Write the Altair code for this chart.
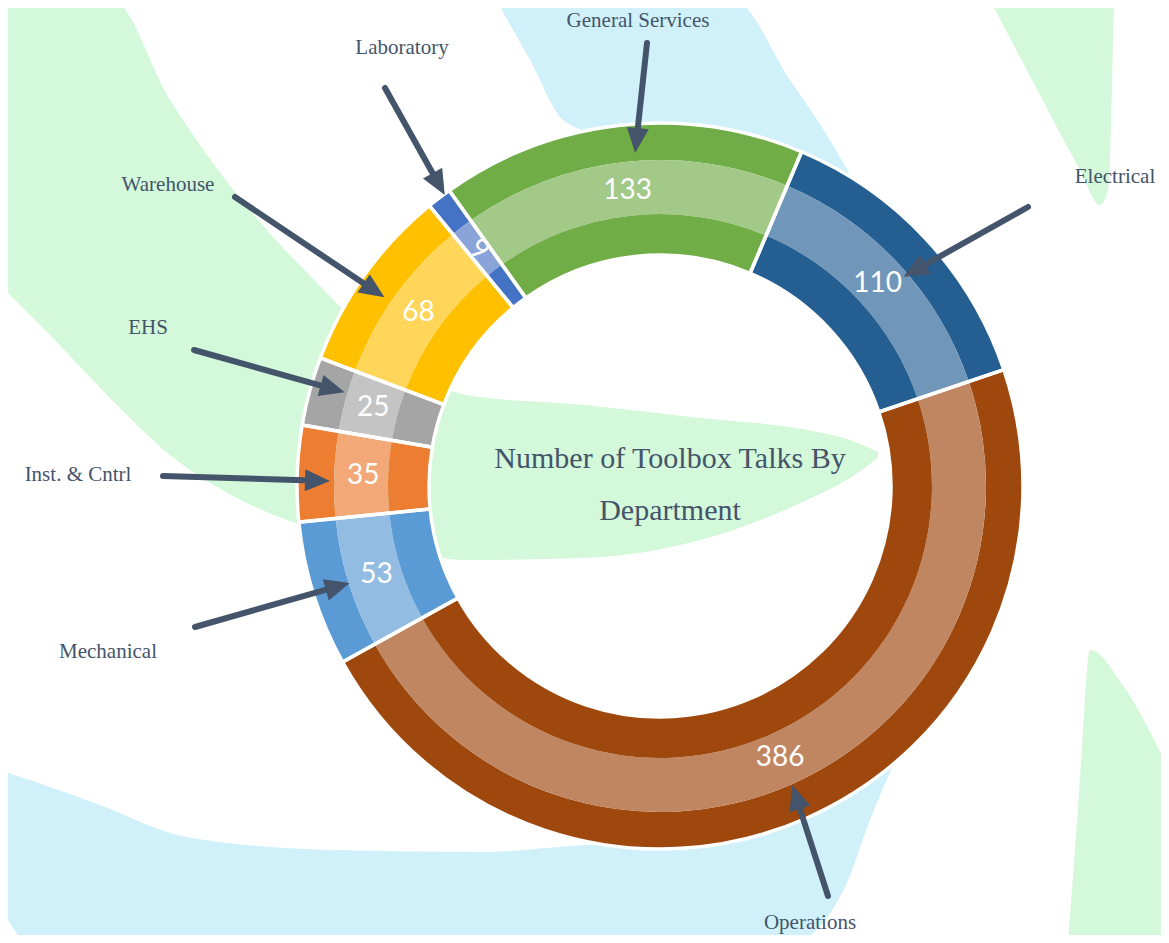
import math
import altair as alt
import pandas as pd

# ---------------- data ----------------
departments = ["General Services", "Electrical", "Operations", "Mechanical",
               "Inst. & Cntrl", "EHS", "Warehouse", "Laboratory"]
talks = [133, 110, 386, 53, 35, 25, 68, 9]
title_lines = ["Number of Toolbox Talks By", "Department"]

# ---------------- styles ----------------
DARK = {"General Services": "#70AD47", "Electrical": "#255E91", "Operations": "#9E480E",
        "Mechanical": "#5B9BD5", "Inst. & Cntrl": "#ED7D31", "EHS": "#A5A5A5",
        "Warehouse": "#FFC000", "Laboratory": "#4472C4"}
LIGHT = {"General Services": "#A2C987", "Electrical": "#7096BA", "Operations": "#C08661",
         "Mechanical": "#93BCE3", "Inst. & Cntrl": "#F3A878", "EHS": "#C4C4C4",
         "Warehouse": "#FFD55A", "Laboratory": "#8AA4DA"}
VALUE_ROT = {"Laboratory": 35}
INK = "#44546A"
BG_GREEN = "#D3F8DA"
BG_BLUE = "#D0F1FA"
SERIF = "Liberation Serif"

# ---------------- layout (page pixels) ----------------
PAGE_W, PAGE_H, MARGIN = 1169, 943, 8
W, H = PAGE_W - 2 * MARGIN, PAGE_H - 2 * MARGIN
CX, CY = 660, 486
R_OUT, R_A, R_B, R_IN = 363, 326, 272, 231
R_VALUE = 297
START_DEG = -35.5

LABEL_XY = {"General Services": (638, 21), "Electrical": (1115, 177), "Operations": (810, 923),
            "Mechanical": (108, 652), "Inst. & Cntrl": (78, 475), "EHS": (148, 328),
            "Warehouse": (168, 185), "Laboratory": (402, 48)}
ARROW_TAIL = {"General Services": (647, 43), "Electrical": (1028, 207), "Operations": (828, 896),
              "Mechanical": (195, 627), "Inst. & Cntrl": (163, 476), "EHS": (194, 350),
              "Warehouse": (235, 197), "Laboratory": (385, 88)}
# (angle offset from the slice middle in degrees, radius) of each arrow tip
TIP_POLAR = {"General Services": (2.0, 334), "Electrical": (2.2, 321), "Operations": (0.0, 327),
             "Mechanical": (0.0, 325), "Inst. & Cntrl": (-1.1, 330), "EHS": (1.4, 329),
             "Warehouse": (-1.2, 334), "Laboratory": (1.0, 362)}
TITLE_XY = [(670, 468), (670, 520)]
HEAD_LEN = 25

# background decoration (soft swooshes), page pixels
deco = [
    ("g1", BG_GREEN,
     [0, 50, 112, 170, 231, 317, 400, 466, 584, 700, 807, 850, 878],
     [0, 0, 0, 100, 187, 283, 360, 395, 405, 418, 430, 440, 452],
     [285, 335, 400, 455, 495, 530, 550, 560, 558, 540, 500, 478, 458]),
    ("b1", BG_BLUE,
     [496, 530, 563, 600, 680, 733, 790, 830, 850],
     [0, 0, 0, 0, 0, 0, 80, 140, 175],
     [0, 60, 120, 135, 150, 160, 170, 175, 175]),
    ("b2", BG_BLUE,
     [0, 30, 100, 186, 335, 484, 584, 700, 790, 845, 870, 893],
     [770, 780, 805, 837, 850, 852, 845, 840, 805, 785, 775, 765],
     [905, 943, 943, 943, 943, 943, 943, 943, 943, 887, 820, 765]),
    ("g2", BG_GREEN,
     [990, 1040, 1080, 1100, 1108, 1114],
     [0, 0, 0, 0, 0, 0],
     [0, 95, 170, 205, 190, 0]),
    ("g3", BG_GREEN,
     [1068, 1075, 1082, 1090, 1124, 1169],
     [943, 850, 750, 650, 687, 770],
     [943, 943, 943, 943, 943, 943]),
]

# ---------------- tables ----------------
total = sum(talks)
ring = pd.DataFrame({
    "dept": departments,
    "talks": talks,
    "order": list(range(len(departments))),
    "dark": [DARK[d] for d in departments],
    "light": [LIGHT[d] for d in departments],
    "rot": [VALUE_ROT.get(d, 0) for d in departments],
})

arrow_rows = []
value_rows = []
cum = 0
for d, v in zip(departments, talks):
    mid = START_DEG + (cum + v / 2) / total * 360
    cum += v
    am = math.radians(mid)
    value_rows.append({"dept": d, "talks": v, "rot": VALUE_ROT.get(d, 0),
                       "vx": CX + R_VALUE * math.sin(am), "vy": CY - R_VALUE * math.cos(am)})
    off, r = TIP_POLAR[d]
    a = math.radians(mid + off)
    px, py = CX + r * math.sin(a), CY - r * math.cos(a)
    tx, ty = ARROW_TAIL[d]
    dx, dy = px - tx, py - ty
    ln = math.hypot(dx, dy)
    ux, uy = dx / ln, dy / ln
    ang = math.degrees(math.atan2(dx, -dy)) % 360
    lx, ly = LABEL_XY[d]
    arrow_rows.append({"dept": d, "tx": tx, "ty": ty,
                       "ex": px - 0.72 * HEAD_LEN * ux, "ey": py - 0.72 * HEAD_LEN * uy,
                       "hx": px - 0.5 * HEAD_LEN * ux, "hy": py - 0.5 * HEAD_LEN * uy,
                       "ang": ang, "lx": lx, "ly": ly})
arrows = pd.DataFrame(arrow_rows)
value_df = pd.DataFrame(value_rows)

deco_rows = []
for name, fill, xsv, ytop, ybot in deco:
    for x, y1, y2 in zip(xsv, ytop, ybot):
        deco_rows.append({"shape": name, "fill": fill, "x": x, "y": y1, "y2": y2})
deco_df = pd.DataFrame(deco_rows)

titles = pd.DataFrame({"text": title_lines,
                       "x": [p[0] for p in TITLE_XY], "y": [p[1] for p in TITLE_XY]})

# ---------------- scales ----------------
xs = alt.Scale(domain=[MARGIN, PAGE_W - MARGIN], nice=False, zero=False)
ys = alt.Scale(domain=[MARGIN, PAGE_H - MARGIN], nice=False, zero=False, reverse=True)
s0 = math.radians(START_DEG)
theta = alt.Theta("talks:Q", stack=True, scale=alt.Scale(range=[s0, s0 + 2 * math.pi]))
order = alt.Order("order:Q")
cxv, cyv = alt.value(CX - MARGIN), alt.value(CY - MARGIN)

# ---------------- layers ----------------
bg = alt.Chart(deco_df).mark_area(interpolate="monotone", opacity=1).encode(
    x=alt.X("x:Q", scale=xs, axis=None),
    y=alt.Y("y:Q", scale=ys, axis=None, stack=False),
    y2="y2:Q",
    color=alt.Color("fill:N", scale=None),
    detail="shape:N",
)

ring_base = alt.Chart(ring).encode(theta=theta, order=order, x=cxv, y=cyv)
outer = ring_base.mark_arc(radius=R_OUT, radius2=R_A, strokeWidth=0).encode(
    color=alt.Color("dark:N", scale=None))
middle = ring_base.mark_arc(radius=R_A, radius2=R_B, strokeWidth=0).encode(
    color=alt.Color("light:N", scale=None))
inner = ring_base.mark_arc(radius=R_B, radius2=R_IN, strokeWidth=0).encode(
    color=alt.Color("dark:N", scale=None))
outline = ring_base.mark_arc(radius=R_OUT, radius2=R_IN, fillOpacity=0,
                             stroke="white", strokeWidth=3.5)
values = alt.Chart(value_df).mark_text(font="Lato", fontSize=28, fill="white",
                                       align="center", baseline="middle").encode(
    x=alt.X("vx:Q", scale=xs, axis=None), y=alt.Y("vy:Q", scale=ys, axis=None),
    text=alt.Text("talks:Q"), angle=alt.Angle("rot:Q", scale=None))

arrow_lines = alt.Chart(arrows).mark_rule(strokeWidth=6, strokeCap="round", color=INK).encode(
    x=alt.X("tx:Q", scale=xs, axis=None), y=alt.Y("ty:Q", scale=ys, axis=None),
    x2="ex:Q", y2="ey:Q")
HEAD = "M0,-1 L0.88,1 L-0.88,1 Z"
arrow_heads = alt.Chart(arrows).mark_point(shape=HEAD, filled=True, size=HEAD_LEN ** 2,
                                           color=INK, opacity=1, strokeWidth=0).encode(
    x=alt.X("hx:Q", scale=xs, axis=None), y=alt.Y("hy:Q", scale=ys, axis=None),
    angle=alt.Angle("ang:Q", scale=None))

labels = alt.Chart(arrows).mark_text(font=SERIF, fontSize=21, color=INK,
                                     align="center", baseline="middle").encode(
    x=alt.X("lx:Q", scale=xs, axis=None), y=alt.Y("ly:Q", scale=ys, axis=None),
    text="dept:N")

title = alt.Chart(titles).mark_text(font=SERIF, fontSize=30, color=INK,
                                    align="center", baseline="alphabetic").encode(
    x=alt.X("x:Q", scale=xs, axis=None), y=alt.Y("y:Q", scale=ys, axis=None),
    text="text:N")

chart = alt.layer(bg, outer, middle, inner, outline, values,
                  arrow_lines, arrow_heads, labels, title).properties(
    width=W, height=H, padding=0,
    autosize=alt.AutoSizeParams(type="none"),
    background="white",
).configure_view(strokeWidth=0)

chart.save("out.html", embed_options={"renderer": "svg", "actions": False})
